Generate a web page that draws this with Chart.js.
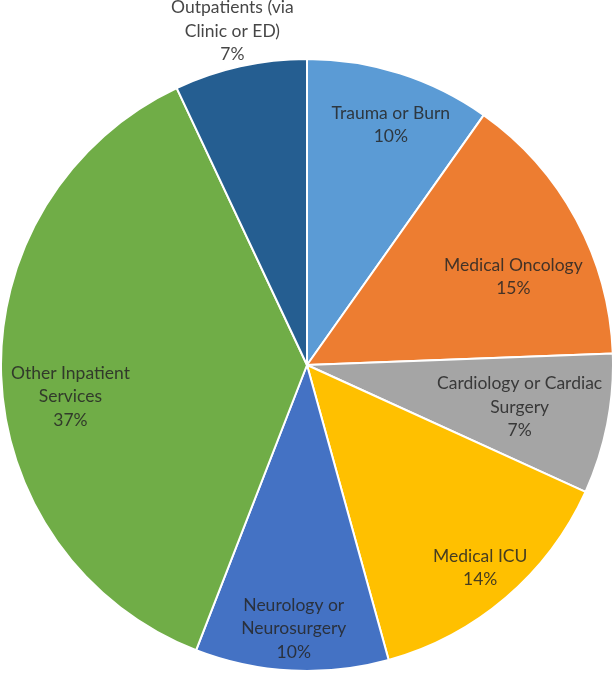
<!DOCTYPE html>
<html>
<head>
<meta charset="utf-8">
<script src="https://cdn.jsdelivr.net/npm/chart.js@4.4.0/dist/chart.umd.min.js"></script>
<style>
 html, body { margin: 0; padding: 0; background: #fff; }
 #wrap { width: 614px; height: 674px; }
</style>
</head>
<body>
<div id="wrap"><canvas id="miGrafico"></canvas></div>
<script>
// datos del grafico (porcentajes)
let categorias = [
 ['Trauma or Burn'],
 ['Medical Oncology'],
 ['Cardiology or Cardiac', 'Surgery'],
 ['Medical ICU'],
 ['Neurology or', 'Neurosurgery'],
 ['Other Inpatient', 'Services'],
 ['Outpatients (via', 'Clinic or ED)']
];
let valores = [9.8, 14.6, 7.4, 13.9, 10.2, 37.1, 7.0];
let colores = ['#5B9BD5', '#ED7D31', '#A5A5A5', '#FFC000', '#4472C4', '#70AD47', '#255E91'];

const FUENTE = '17.5px Lato';
const ALTO_LINEA = 23.5;

// etiquetas tipo "best fit" de Excel: dentro si caben, si no afuera
const etiquetas = {
 id: 'etiquetas',
 afterDatasetsDraw(chart) {
  const c = chart.ctx;
  const meta = chart.getDatasetMeta(0);
  const total = valores.reduce((a, b) => a + b, 0);
  c.save();
  c.font = FUENTE;
  c.fillStyle = 'rgba(38,38,38,0.85)';
  c.textAlign = 'center';
  c.textBaseline = 'middle';
  meta.data.forEach((arc, i) => {
   const p = arc.getProps(['x', 'y', 'startAngle', 'endAngle', 'outerRadius']);
   const lineas = categorias[i].concat([Math.round(valores[i] / total * 100) + '%']);
   const anchos = lineas.map(t => c.measureText(t).width);
   const alto = lineas.length * ALTO_LINEA;
   const mid = (p.startAngle + p.endAngle) / 2;
   const ux = Math.cos(mid), uy = Math.sin(mid);
   const r = p.outerRadius;
   const span = p.endAngle - p.startAngle;
   // arriba el rayo toca el borde superior del bloque, cerca del horizontal la primera linea,
   // abajo el centro del bloque
   let baja = 0;
   if (uy < -0.2) baja = alto / 2;
   else if (uy < 0.1) baja = alto / 2 - ALTO_LINEA / 2;

   const cabe = (cx, cy) => {
    for (let k = 0; k < lineas.length; k++) {
     const ly = cy - alto / 2 + k * ALTO_LINEA;
     const hw = anchos[k] / 2;
     const pts = [[cx - hw, ly + 4], [cx + hw, ly + 4], [cx - hw, ly + ALTO_LINEA - 4], [cx + hw, ly + ALTO_LINEA - 4]];
     for (const [px, py] of pts) {
      const dx = px - p.x, dy = py - p.y;
      if (Math.hypot(dx, dy) > r * 0.97) return false;
      let a = Math.atan2(dy, dx) - p.startAngle;
      a = ((a % (2 * Math.PI)) + 2 * Math.PI) % (2 * Math.PI);
      if (a < 0.02 || a > span - 0.02) return false;
     }
    }
    return true;
   };

   let pos = null;
   for (let d = r * 0.95; d > r * 0.3; d -= 1) {
    const cx = p.x + ux * d, cy = p.y + uy * d + baja;
    if (cabe(cx, cy)) { pos = [cx, cy]; break; }
   }
   if (!pos) {
    const hw = Math.max(...anchos) / 2, hh = alto / 2;
    const e = Math.min(Math.abs(ux) > 1e-6 ? hw / Math.abs(ux) : Infinity,
                       Math.abs(uy) > 1e-6 ? hh / Math.abs(uy) : Infinity);
    const d = r + e;
    pos = [p.x + ux * d, p.y + uy * d];
   }
   lineas.forEach((t, k) => {
    c.fillText(t, pos[0], pos[1] - alto / 2 + (k + 0.5) * ALTO_LINEA);
   });
  });
  c.restore();
 }
};

var ctx = document.getElementById('miGrafico').getContext('2d');
var chart = new Chart(ctx, {
 type: 'pie',
 data: {
  labels: categorias,
  datasets: [{
   data: valores,
   backgroundColor: colores,
   borderColor: '#ffffff',
   borderWidth: 2
  }]
 },
 options: {
  responsive: true,
  maintainAspectRatio: false,
  animation: false,
  layout: { padding: { top: 56 } },
  plugins: {
   legend: { display: false },
   tooltip: { enabled: false }
  }
 },
 plugins: [etiquetas]
});
</script>
</body>
</html>
